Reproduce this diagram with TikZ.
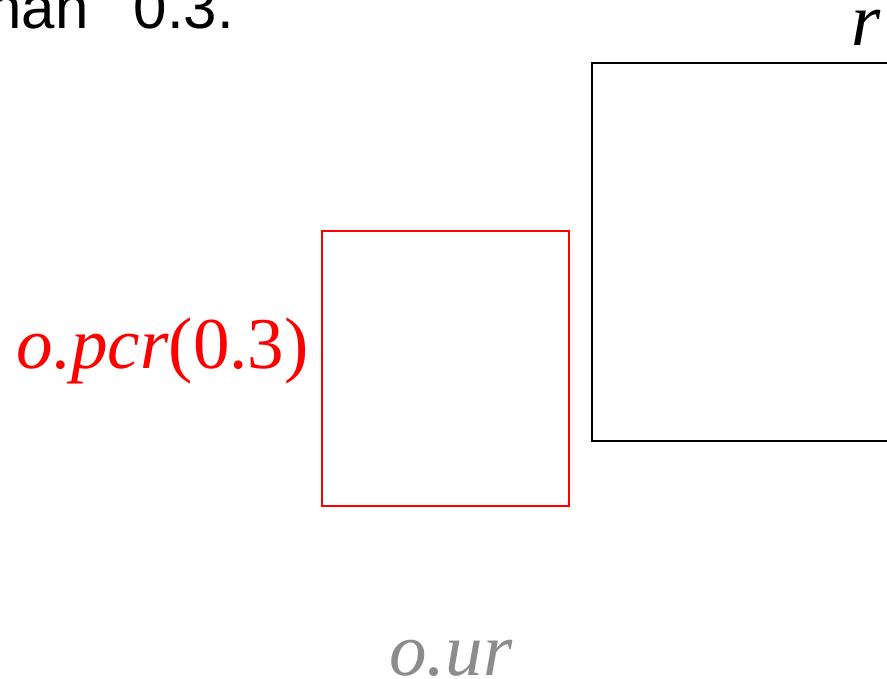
\documentclass[tikz,border=0pt]{standalone}
\usepackage{fontspec}
\setmainfont{Liberation Serif}
\setsansfont{Liberation Sans}
\usetikzlibrary{positioning}

\begin{document}
\begin{tikzpicture}[x=1pt, y=-1pt,
  box/.style={draw, line width=1.5pt, inner sep=0pt, anchor=north west},
  big/.style={font=\fontsize{75}{80}\selectfont, inner sep=0pt}]
  \useasboundingbox (0,0) rectangle (887,678);
  \clip (0,0) rectangle (887,678);

  % tail of the caption above
  \node[anchor=base east, inner sep=0pt, font=\sffamily\fontsize{60}{64}\selectfont] (cap) at (234,28) {than\hspace{0.75em}0.3.};

  % the two rectangles
  \node[box, red, minimum width=247pt, minimum height=275pt] (pcr) at (321,230) {};
  \node[box, minimum width=330pt, minimum height=378pt] (r) at (591,62) {};

  % labels
  \node[big, red, anchor=base east, font=\fontsize{73}{78}\selectfont] (pcrlab) at (309,368) {\textit{o.pcr}(0.3)};
  \node[big, anchor=base] (rlab) at (866,45) {\textit{r}};
  \node[big, black!45, anchor=base] (urlab) at (451,675) {\textit{o.ur}};
\end{tikzpicture}
\end{document}
